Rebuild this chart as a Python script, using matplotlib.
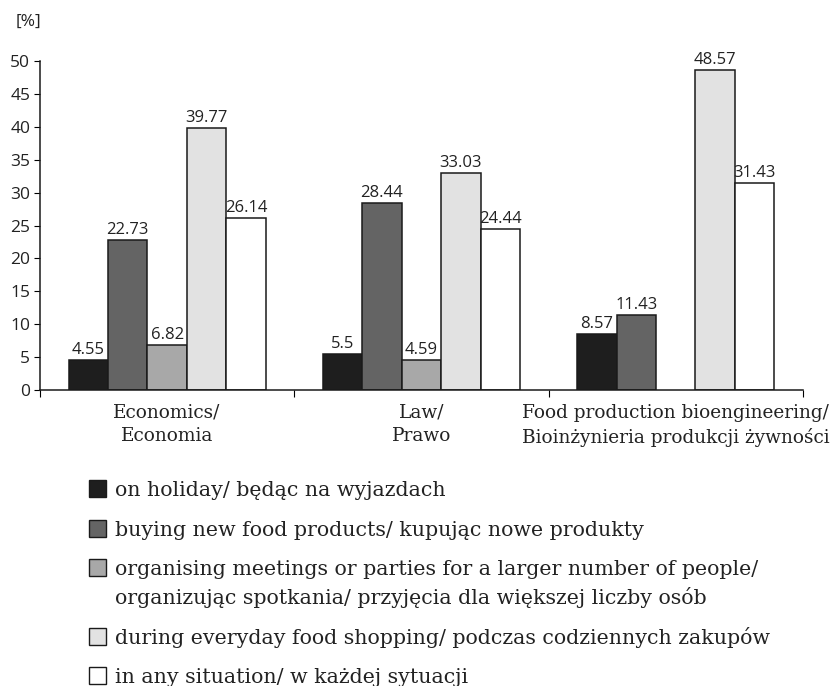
import numpy as np
import matplotlib.pyplot as plt
from matplotlib.patches import Rectangle

categories = ["Economics/\nEconomia", "Law/\nPrawo",
              "Food production bioengineering/\nBioinżynieria produkcji żywności"]
series_labels = [
    "on holiday/ będąc na wyjazdach",
    "buying new food products/ kupując nowe produkty",
    "organising meetings or parties for a larger number of people/\norganizując spotkania/ przyjęcia dla większej liczby osób",
    "during everyday food shopping/ podczas codziennych zakupów",
    "in any situation/ w każdej sytuacji",
]
on_holiday = [4.55, 5.5, 8.57]
new_products = [22.73, 28.44, 11.43]
meetings = [6.82, 4.59, np.nan]
everyday = [39.77, 33.03, 48.57]
any_situation = [26.14, 24.44, 31.43]
value_text = [["4.55", "5.5", "8.57"], ["22.73", "28.44", "11.43"],
              ["6.82", "4.59", ""], ["39.77", "33.03", "48.57"],
              ["26.14", "24.44", "31.43"]]

series = [on_holiday, new_products, meetings, everyday, any_situation]
colors = ["#1e1e1e", "#646464", "#a8a8a8", "#e2e2e2", "#ffffff"]

sans = "Open Sans"
serif = "DejaVu Serif"
W, H = 838, 686

fig = plt.figure(figsize=(W / 100, H / 100), dpi=100)
ax = fig.add_axes([0.0477, 0.4315, 0.9103, 0.4795])

w = 0.155
centers = np.arange(len(categories)) + 0.5
for j, (vals, col) in enumerate(zip(series, colors)):
    x = centers + (j - 2) * w
    ax.bar(x, vals, width=w, color=col, edgecolor="#1a1a1a", linewidth=1.1)
    for xi, v, t in zip(x, vals, value_text[j]):
        if np.isnan(v):
            continue
        ax.text(xi, v + 0.3, t, ha="center", va="bottom", fontsize=12,
                family=sans, color="#222222")

ax.set_xlim(0, 3)
ax.set_ylim(0, 50)
ax.set_yticks(np.arange(0, 51, 5))
ax.set_xticks([0, 1, 2, 3])
ax.set_xticklabels([])
ax.set_xticks(centers, minor=True)
ax.set_xticklabels(categories, minor=True, family=serif, fontsize=13.3,
                   color="#222222", linespacing=1.4)
ax.tick_params(axis="x", which="minor", length=0, pad=10)
ax.tick_params(axis="x", which="major", length=5, direction="out")
ax.tick_params(axis="y", length=4, direction="out", labelsize=12.5, pad=3)
for lab in ax.get_yticklabels():
    lab.set_family(sans)
    lab.set_color("#222222")
for s in ["top", "right"]:
    ax.spines[s].set_visible(False)
for s in ["left", "bottom"]:
    ax.spines[s].set_linewidth(1.1)
    ax.spines[s].set_color("#1a1a1a")

fig.text(0.019, 0.968, "[%]", family=sans, fontsize=12.5, color="#222222",
         ha="left", va="center")

# legend laid out by hand: box left of the first line of each entry
box = 17          # px
row_y = 488.5     # px from top, centre of first box
row_step = 39.5
line_step = 29
for lab, col in zip(series_labels, colors):
    fig.add_artist(Rectangle(((89) / W, 1 - (row_y + box / 2) / H), box / W, box / H,
                             transform=fig.transFigure, facecolor=col,
                             edgecolor="#1a1a1a", linewidth=1.0))
    lines = lab.split("\n")
    for k, line in enumerate(lines):
        fig.text(115 / W, 1 - (row_y + 7.5 + k * line_step) / H, line,
                 family=serif, fontsize=14.8, color="#222222",
                 ha="left", va="baseline")
    row_y += row_step + (len(lines) - 1) * line_step

fig.savefig("out.png", dpi=100)
